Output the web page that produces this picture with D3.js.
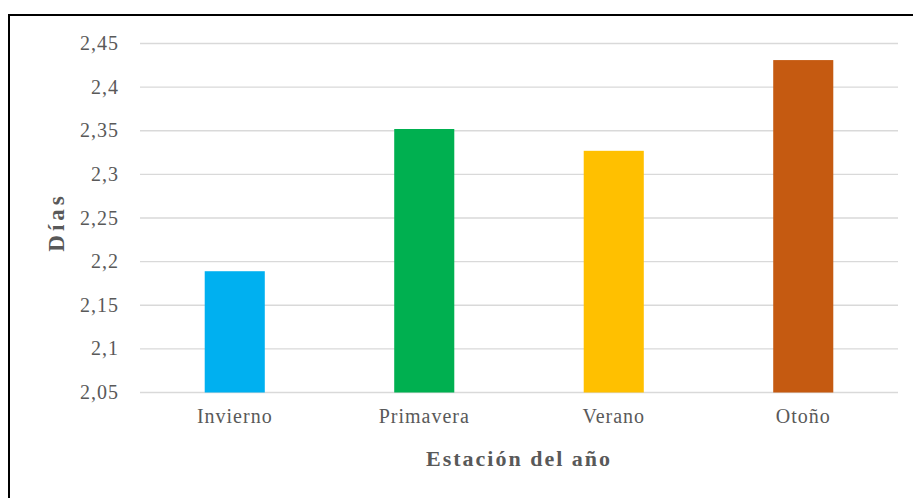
<!DOCTYPE html>
<html><head><meta charset="utf-8">
<script src="https://cdn.jsdelivr.net/npm/d3@7"></script>
<style>body{margin:0;background:#fff;}svg{display:block;} text{font-family:'Liberation Serif','DejaVu Serif',serif;}</style>
</head><body>
<svg id="c" width="913" height="498"></svg>
<script>
const categories = ["Invierno", "Primavera", "Verano", "Otoño"];
const values = [2.189, 2.352, 2.327, 2.431];
const colors = ["#00b0f0", "#00b050", "#ffc000", "#c55a11"];
const yTicks = [2.05, 2.1, 2.15, 2.2, 2.25, 2.3, 2.35, 2.4, 2.45];
const yTitle = "Días";
const xTitle = "Estación del año";

const svg = d3.select("#c");
const font = "'Liberation Serif', 'DejaVu Serif', serif";
const grey = "#595959";

// outer frame
svg.append("rect").attr("x", 9).attr("y", 15).attr("width", 920).attr("height", 500)
  .attr("fill", "none").attr("stroke", "#000").attr("stroke-width", 2);

const x = d3.scaleBand().domain(categories).range([140, 898]);
const y = d3.scaleLinear().domain([2.05, 2.45]).range([392.5, 43.5]);
const barW = x.bandwidth() * 0.317;

const fmt = d => String(+d.toFixed(2)).replace(".", ",");

// gridlines
svg.append("g").selectAll("line").data(yTicks).join("line")
  .attr("x1", 140).attr("x2", 898)
  .attr("y1", d => y(d)).attr("y2", d => y(d))
  .attr("stroke", "#d9d9d9").attr("stroke-width", 1.3);

// y axis labels via d3 axis
const yAxis = svg.append("g").attr("transform", "translate(140,0)")
  .call(d3.axisLeft(y).tickValues(yTicks).tickFormat(fmt).tickSize(0).tickPadding(21));
yAxis.attr("font-family", null);
yAxis.select(".domain").remove();
yAxis.selectAll("text").style("font-family", font).style("font-size", "20px")
  .attr("fill", grey).style("letter-spacing", "1px").attr("dy", "0.3em");

// bars
svg.append("g").selectAll("rect").data(values).join("rect")
  .attr("x", (d, i) => x(categories[i]) + x.bandwidth() / 2 - barW / 2)
  .attr("width", barW)
  .attr("y", d => y(d))
  .attr("height", d => y(2.05) - y(d))
  .attr("fill", (d, i) => colors[i]);

// x axis labels
const xAxis = svg.append("g").attr("transform", "translate(0,392.5)")
  .call(d3.axisBottom(x).tickSize(0).tickPadding(16));
xAxis.attr("font-family", null);
xAxis.select(".domain").remove();
xAxis.selectAll("text").style("font-family", font).style("font-size", "20px")
  .attr("fill", grey).style("letter-spacing", "1px");

// titles
svg.append("text").attr("x", 519).attr("y", 466).attr("text-anchor", "middle")
  .style("font-family", font).style("font-size", "22px").attr("font-weight", "bold")
  .style("letter-spacing", "2px").attr("fill", grey).text(xTitle);
svg.append("text").attr("transform", "translate(64,222) rotate(-90)")
  .attr("text-anchor", "middle")
  .style("font-family", font).style("font-size", "23px").attr("font-weight", "bold")
  .style("letter-spacing", "4px").attr("fill", grey).text(yTitle);
</script>
</body></html>
